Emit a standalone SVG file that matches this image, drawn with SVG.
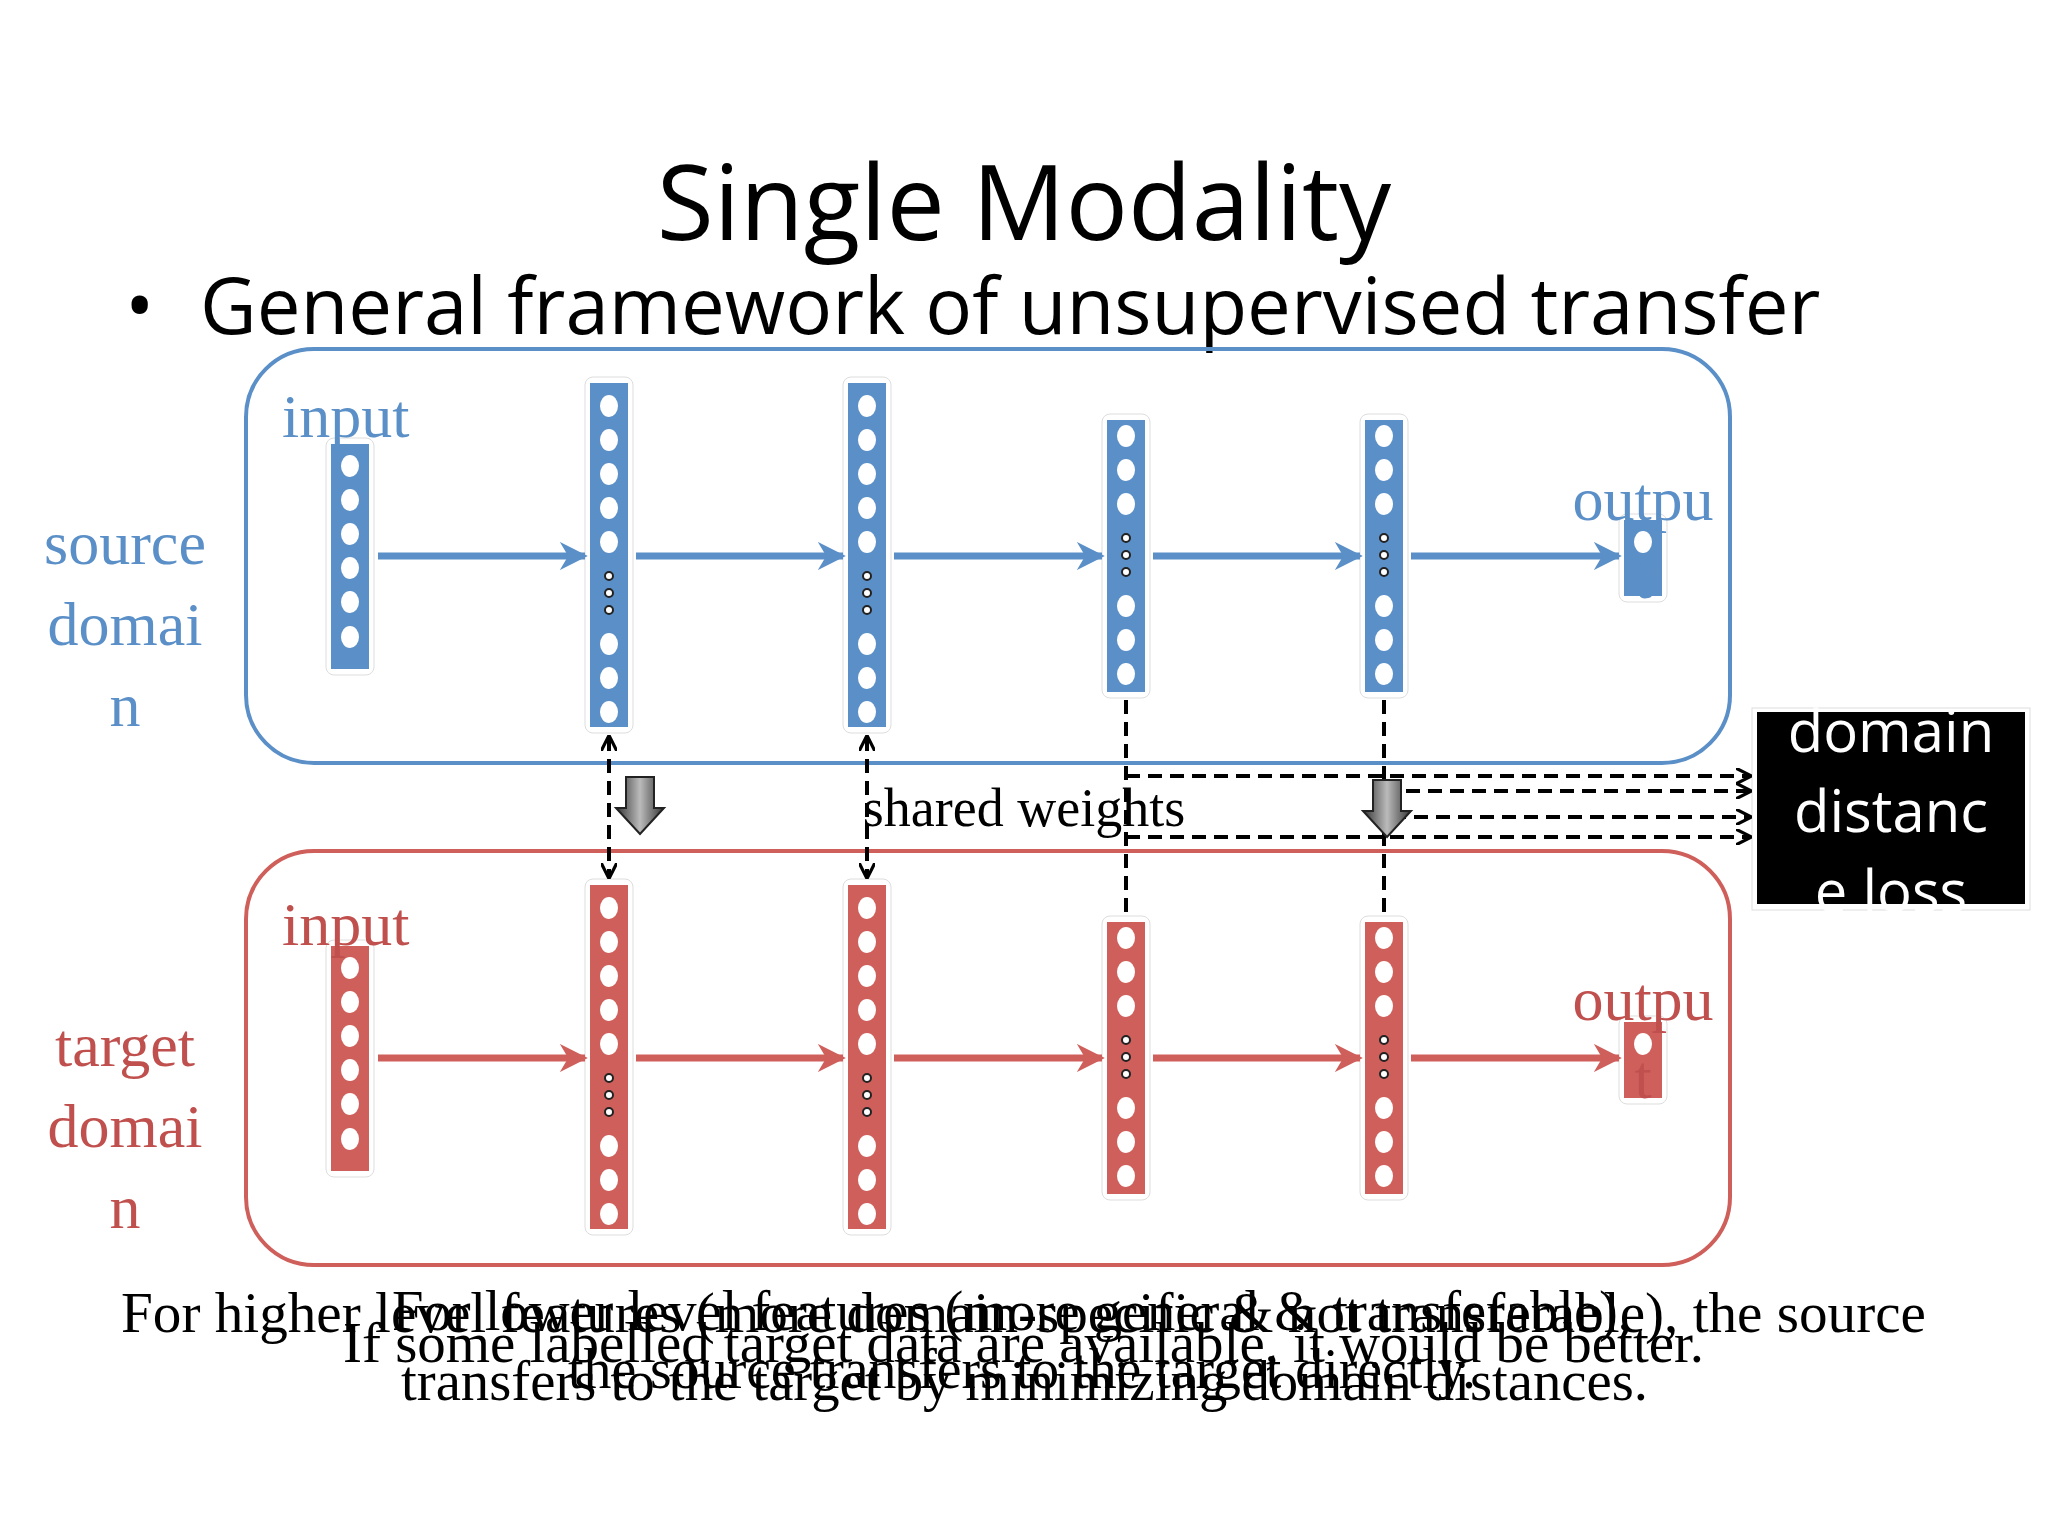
<svg xmlns="http://www.w3.org/2000/svg" width="2048" height="1536" viewBox="0 0 2048 1536">
<defs>
<style>
.t{font-family:"Open Sans","Liberation Sans",sans-serif;fill:#000}
.s{font-family:"Liberation Serif",serif}
.b{fill:#5b8fc7}.bt{fill:#5b8fc7}.bs{stroke:#5b8fc7}
.r{fill:#cf5f5a}.rt{fill:#c0504d}.rs{stroke:#cf5f5a}
.halo{fill:#fff;stroke:#ddd;stroke-width:1}
.c{fill:#fff}
.d{fill:#fff;stroke:#222;stroke-width:2}
.ar{stroke-width:7;fill:none}
.dash{stroke:#000;stroke-width:4;stroke-dasharray:14 8;fill:none}
</style>
<marker id="mb" viewBox="0 0 10 10" refX="9" refY="5" markerWidth="4" markerHeight="4" orient="auto" markerUnits="strokeWidth"><path d="M0,0L10,5L0,10L3,5Z" fill="#5b8fc7"/></marker>
<marker id="mr" viewBox="0 0 10 10" refX="9" refY="5" markerWidth="4" markerHeight="4" orient="auto" markerUnits="strokeWidth"><path d="M0,0L10,5L0,10L3,5Z" fill="#cf5f5a"/></marker>
<marker id="mk" viewBox="0 0 10 10" refX="9" refY="5" markerWidth="4" markerHeight="4" orient="auto-start-reverse" markerUnits="strokeWidth"><path d="M0,0L10,5L0,10" fill="none" stroke="#000" stroke-width="2"/></marker>
<linearGradient id="g" x1="0" x2="1"><stop offset="0" stop-color="#333"/><stop offset="0.5" stop-color="#bbb"/><stop offset="1" stop-color="#333"/></linearGradient>
</defs>
<rect width="2048" height="1536" fill="#fff"/>
<text class="t" x="1024" y="240" font-size="104" text-anchor="middle">Single Modality</text>
<text class="t" x="125" y="334" font-size="78">•</text>
<text class="t" x="200" y="334" font-size="78">General framework of unsupervised transfer</text>

<g id="source-domain">
<rect x="246" y="349" width="1484" height="414" rx="68" fill="none" stroke="#5b8fc7" stroke-width="4"/>
<text class="s bt" font-size="62" text-anchor="middle"><tspan x="125" y="564">source</tspan><tspan x="125" y="645">domai</tspan><tspan x="125" y="726">n</tspan></text>
<g id="s-in"><rect class="halo" x="326" y="438" width="48" height="237" rx="8"/><rect class="b" x="331" y="444" width="38" height="225"/>
<g class="c"><ellipse cx="350" cy="466" rx="9" ry="11"/><ellipse cx="350" cy="500" rx="9" ry="11"/><ellipse cx="350" cy="534" rx="9" ry="11"/><ellipse cx="350" cy="568" rx="9" ry="11"/><ellipse cx="350" cy="602" rx="9" ry="11"/><ellipse cx="350" cy="637" rx="9" ry="11"/></g>
<text class="s bt" x="282" y="437" font-size="62">input</text></g>
<g id="s-h1"><rect class="halo" x="585" y="377" width="48" height="356" rx="8"/><rect class="b" x="590" y="383" width="38" height="344"/>
<g class="c"><ellipse cx="609" cy="406" rx="9" ry="11"/><ellipse cx="609" cy="440" rx="9" ry="11"/><ellipse cx="609" cy="474" rx="9" ry="11"/><ellipse cx="609" cy="508" rx="9" ry="11"/><ellipse cx="609" cy="542" rx="9" ry="11"/><ellipse cx="609" cy="644" rx="9" ry="11"/><ellipse cx="609" cy="678" rx="9" ry="11"/><ellipse cx="609" cy="712" rx="9" ry="11"/></g>
<g class="d"><circle cx="609" cy="576" r="4"/><circle cx="609" cy="593" r="4"/><circle cx="609" cy="610" r="4"/></g></g>
<g id="s-h2"><rect class="halo" x="843" y="377" width="48" height="356" rx="8"/><rect class="b" x="848" y="383" width="38" height="344"/>
<g class="c"><ellipse cx="867" cy="406" rx="9" ry="11"/><ellipse cx="867" cy="440" rx="9" ry="11"/><ellipse cx="867" cy="474" rx="9" ry="11"/><ellipse cx="867" cy="508" rx="9" ry="11"/><ellipse cx="867" cy="542" rx="9" ry="11"/><ellipse cx="867" cy="644" rx="9" ry="11"/><ellipse cx="867" cy="678" rx="9" ry="11"/><ellipse cx="867" cy="712" rx="9" ry="11"/></g>
<g class="d"><circle cx="867" cy="576" r="4"/><circle cx="867" cy="593" r="4"/><circle cx="867" cy="610" r="4"/></g></g>
<g id="s-h3"><rect class="halo" x="1102" y="414" width="48" height="284" rx="8"/><rect class="b" x="1107" y="420" width="38" height="272"/>
<g class="c"><ellipse cx="1126" cy="436" rx="9" ry="11"/><ellipse cx="1126" cy="470" rx="9" ry="11"/><ellipse cx="1126" cy="504" rx="9" ry="11"/><ellipse cx="1126" cy="606" rx="9" ry="11"/><ellipse cx="1126" cy="640" rx="9" ry="11"/><ellipse cx="1126" cy="674" rx="9" ry="11"/></g>
<g class="d"><circle cx="1126" cy="538" r="4"/><circle cx="1126" cy="555" r="4"/><circle cx="1126" cy="572" r="4"/></g></g>
<g id="s-h4"><rect class="halo" x="1360" y="414" width="48" height="284" rx="8"/><rect class="b" x="1365" y="420" width="38" height="272"/>
<g class="c"><ellipse cx="1384" cy="436" rx="9" ry="11"/><ellipse cx="1384" cy="470" rx="9" ry="11"/><ellipse cx="1384" cy="504" rx="9" ry="11"/><ellipse cx="1384" cy="606" rx="9" ry="11"/><ellipse cx="1384" cy="640" rx="9" ry="11"/><ellipse cx="1384" cy="674" rx="9" ry="11"/></g>
<g class="d"><circle cx="1384" cy="538" r="4"/><circle cx="1384" cy="555" r="4"/><circle cx="1384" cy="572" r="4"/></g></g>
<g id="s-out"><rect class="halo" x="1619" y="514" width="48" height="88" rx="8"/><rect class="b" x="1624" y="520" width="38" height="76"/>
<ellipse class="c" cx="1643" cy="542" rx="9" ry="11"/>
<text class="s bt" x="1643" y="520" font-size="62" text-anchor="middle">outpu</text>
<text class="s bt" x="1643" y="598" font-size="62" text-anchor="middle">t</text></g>
</g>

<g id="target-domain">
<rect x="246" y="851" width="1484" height="414" rx="68" fill="none" stroke="#cf5f5a" stroke-width="4"/>
<text class="s rt" font-size="62" text-anchor="middle"><tspan x="125" y="1066">target</tspan><tspan x="125" y="1147">domai</tspan><tspan x="125" y="1228">n</tspan></text>
<g id="t-in"><rect class="halo" x="326" y="940" width="48" height="237" rx="8"/><rect class="r" x="331" y="946" width="38" height="225"/>
<g class="c"><ellipse cx="350" cy="968" rx="9" ry="11"/><ellipse cx="350" cy="1002" rx="9" ry="11"/><ellipse cx="350" cy="1036" rx="9" ry="11"/><ellipse cx="350" cy="1070" rx="9" ry="11"/><ellipse cx="350" cy="1104" rx="9" ry="11"/><ellipse cx="350" cy="1139" rx="9" ry="11"/></g>
<text class="s rt" x="282" y="945" font-size="62">input</text></g>
<g id="t-h1"><rect class="halo" x="585" y="879" width="48" height="356" rx="8"/><rect class="r" x="590" y="885" width="38" height="344"/>
<g class="c"><ellipse cx="609" cy="908" rx="9" ry="11"/><ellipse cx="609" cy="942" rx="9" ry="11"/><ellipse cx="609" cy="976" rx="9" ry="11"/><ellipse cx="609" cy="1010" rx="9" ry="11"/><ellipse cx="609" cy="1044" rx="9" ry="11"/><ellipse cx="609" cy="1146" rx="9" ry="11"/><ellipse cx="609" cy="1180" rx="9" ry="11"/><ellipse cx="609" cy="1214" rx="9" ry="11"/></g>
<g class="d"><circle cx="609" cy="1078" r="4"/><circle cx="609" cy="1095" r="4"/><circle cx="609" cy="1112" r="4"/></g></g>
<g id="t-h2"><rect class="halo" x="843" y="879" width="48" height="356" rx="8"/><rect class="r" x="848" y="885" width="38" height="344"/>
<g class="c"><ellipse cx="867" cy="908" rx="9" ry="11"/><ellipse cx="867" cy="942" rx="9" ry="11"/><ellipse cx="867" cy="976" rx="9" ry="11"/><ellipse cx="867" cy="1010" rx="9" ry="11"/><ellipse cx="867" cy="1044" rx="9" ry="11"/><ellipse cx="867" cy="1146" rx="9" ry="11"/><ellipse cx="867" cy="1180" rx="9" ry="11"/><ellipse cx="867" cy="1214" rx="9" ry="11"/></g>
<g class="d"><circle cx="867" cy="1078" r="4"/><circle cx="867" cy="1095" r="4"/><circle cx="867" cy="1112" r="4"/></g></g>
<g id="t-h3"><rect class="halo" x="1102" y="916" width="48" height="284" rx="8"/><rect class="r" x="1107" y="922" width="38" height="272"/>
<g class="c"><ellipse cx="1126" cy="938" rx="9" ry="11"/><ellipse cx="1126" cy="972" rx="9" ry="11"/><ellipse cx="1126" cy="1006" rx="9" ry="11"/><ellipse cx="1126" cy="1108" rx="9" ry="11"/><ellipse cx="1126" cy="1142" rx="9" ry="11"/><ellipse cx="1126" cy="1176" rx="9" ry="11"/></g>
<g class="d"><circle cx="1126" cy="1040" r="4"/><circle cx="1126" cy="1057" r="4"/><circle cx="1126" cy="1074" r="4"/></g></g>
<g id="t-h4"><rect class="halo" x="1360" y="916" width="48" height="284" rx="8"/><rect class="r" x="1365" y="922" width="38" height="272"/>
<g class="c"><ellipse cx="1384" cy="938" rx="9" ry="11"/><ellipse cx="1384" cy="972" rx="9" ry="11"/><ellipse cx="1384" cy="1006" rx="9" ry="11"/><ellipse cx="1384" cy="1108" rx="9" ry="11"/><ellipse cx="1384" cy="1142" rx="9" ry="11"/><ellipse cx="1384" cy="1176" rx="9" ry="11"/></g>
<g class="d"><circle cx="1384" cy="1040" r="4"/><circle cx="1384" cy="1057" r="4"/><circle cx="1384" cy="1074" r="4"/></g></g>
<g id="t-out"><rect class="halo" x="1619" y="1016" width="48" height="88" rx="8"/><rect class="r" x="1624" y="1022" width="38" height="76"/>
<ellipse class="c" cx="1643" cy="1044" rx="9" ry="11"/>
<text class="s rt" x="1643" y="1020" font-size="62" text-anchor="middle">outpu</text>
<text class="s rt" x="1643" y="1098" font-size="62" text-anchor="middle">t</text></g>
</g>

<g id="domain-loss">
<rect x="1752" y="708" width="278" height="202" fill="#fff" stroke="#ddd"/>
<rect x="1757" y="712" width="268" height="192" fill="#000"/>
<text class="t" font-size="58" fill="#fff" style="fill:#fff" text-anchor="middle"><tspan x="1891" y="752">domain</tspan><tspan x="1891" y="832">distanc</tspan><tspan x="1891" y="912">e loss</tspan></text>
</g>

<g id="connectors">
<g class="ar bs"><path d="M378 556H585" marker-end="url(#mb)"/><path d="M636 556H843" marker-end="url(#mb)"/><path d="M894 556H1102" marker-end="url(#mb)"/><path d="M1153 556H1360" marker-end="url(#mb)"/><path d="M1411 556H1619" marker-end="url(#mb)"/></g>
<g class="ar rs"><path d="M378 1058H585" marker-end="url(#mr)"/><path d="M636 1058H843" marker-end="url(#mr)"/><path d="M894 1058H1102" marker-end="url(#mr)"/><path d="M1153 1058H1360" marker-end="url(#mr)"/><path d="M1411 1058H1619" marker-end="url(#mr)"/></g>
<g class="dash">
<path d="M609 737V877" marker-start="url(#mk)" marker-end="url(#mk)"/>
<path d="M867 737V877" marker-start="url(#mk)" marker-end="url(#mk)"/>
<path d="M1126 700V916"/><path d="M1384 700V916"/>
<path d="M1126 776H1750" marker-end="url(#mk)"/>
<path d="M1384 791H1750" marker-end="url(#mk)"/>
<path d="M1392 817H1750" marker-end="url(#mk)"/>
<path d="M1126 837H1750" marker-end="url(#mk)"/>
</g>
<path d="M626 777H654V808H664L640 834L616 808H626Z" fill="url(#g)" stroke="#222" stroke-width="2"/>
<path d="M1373 780H1401V811H1411L1387 837L1363 811H1373Z" fill="url(#g)" stroke="#222" stroke-width="2"/>
</g>
<text class="s" x="1024" y="826" font-size="54" text-anchor="middle">shared weights</text>

<g class="s" font-size="56">
<text x="121" y="1332" textLength="1805" lengthAdjust="spacingAndGlyphs">For higher level features (more domain-specific &amp; not transferable), the source</text>
<text x="401" y="1400" textLength="1247" lengthAdjust="spacingAndGlyphs">transfers to the target by minimizing domain distances.</text>
<text x="392" y="1330" textLength="1240" lengthAdjust="spacingAndGlyphs">For lower level features (more general &amp; transferable),</text>
<text x="568" y="1388" textLength="908" lengthAdjust="spacingAndGlyphs">the source transfers to the target directly.</text>
<text x="343" y="1362" textLength="1361" lengthAdjust="spacingAndGlyphs">If some labelled target data are available, it would be better.</text>
</g>
</svg>
